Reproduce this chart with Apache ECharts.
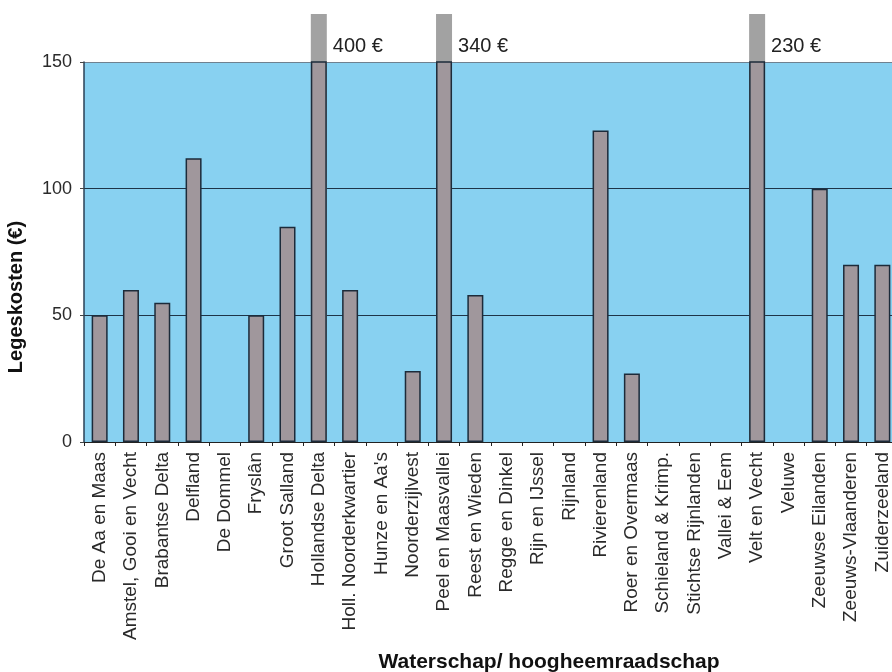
<!DOCTYPE html>
<html>
<head>
<meta charset="utf-8">
<script src="https://cdn.jsdelivr.net/npm/echarts@6/dist/echarts.min.js"></script>
<style>
html,body{margin:0;padding:0;background:#fff;width:892px;height:672px;overflow:hidden;}
#c{position:absolute;left:0;top:14px;width:900px;height:658px;}
</style>
</head>
<body>
<div id="c"></div>
<script>
const categories = ["De Aa en Maas","Amstel, Gooi en Vecht","Brabantse Delta","Delfland","De Dommel","Fryslân","Groot Salland","Hollandse Delta","Holl. Noorderkwartier","Hunze en Aa's","Noorderzijlvest","Peel en Maasvallei","Reest en Wieden","Regge en Dinkel","Rijn en IJssel","Rijnland","Rivierenland","Roer en Overmaas","Schieland & Krimp.","Stichtse Rijnlanden","Vallei & Eem","Velt en Vecht","Veluwe","Zeeuwse Eilanden","Zeeuws-Vlaanderen","Zuiderzeeland"];
const legeskosten = [50,60,55,112,null,50,85,400,60,null,28,340,58,null,null,null,123,27,null,null,null,230,null,100,70,70];
const axisMax = 150;
const yTicks = [0,50,100,150];

const overflow = legeskosten.map(v => (v != null && v > axisMax) ? v : null);
const overflowMarks = [];
legeskosten.forEach((v, i) => { if (v != null && v > axisMax) overflowMarks.push({coord: [i, axisMax], value: v}); });

const chart = echarts.init(document.getElementById('c'));
chart.setOption({
  animation: false,
  grid: {left: 84, right: 2, top: 48, bottom: 230, outerBoundsMode: 'none', containLabel: false,
         show: true, backgroundColor: '#88d1f1', borderWidth: 0},
  xAxis: {
    type: 'category',
    data: categories,
    name: 'Waterschap/ hoogheemraadschap',
    nameLocation: 'middle',
    nameGap: 210,
    nameTextStyle: {fontFamily: 'Liberation Sans', fontWeight: 'bold', fontSize: 21, color: '#111', padding: [0,0,0,116]},
    axisLine: {lineStyle: {color: '#222', width: 1}},
    axisTick: {show: true, length: 4, lineStyle: {color: '#222'}},
    axisLabel: {rotate: 90, interval: 0, margin: 10, fontFamily: 'Liberation Sans', fontSize: 19, color: '#2a2a2a'}
  },
  yAxis: {
    type: 'value',
    min: 0, max: axisMax, interval: 50,
    name: 'Legeskosten (€)',
    nameLocation: 'middle',
    nameGap: 58,
    nameTextStyle: {fontFamily: 'Liberation Sans', fontWeight: 'bold', fontSize: 20, color: '#111', padding: [0, 90, 0, 0]},
    axisLine: {show: true, lineStyle: {color: '#2a3f55', width: 1.5}},
    axisTick: {show: true, length: 4, lineStyle: {color: '#444'}},
    axisLabel: {margin: 12, fontFamily: 'Liberation Sans', fontSize: 18, color: '#2a2a2a',
      formatter: v => yTicks.includes(v) ? String(v) : ''},
    splitLine: {show: true, lineStyle: {color: ['#333', '#1e3448', '#1e3448', '#6f8190'], width: 1}}
  },
  series: [
    {
      type: 'bar',
      data: overflow,
      barWidth: 16,
      clip: false,
      z: 1,
      silent: true,
      itemStyle: {color: '#a2a2a2', borderWidth: 0},
      markPoint: {
        symbol: 'circle', symbolSize: 0,
        data: overflowMarks,
        label: {show: true, position: 'inside', align: 'left', offset: [14, -16],
          fontFamily: 'Liberation Sans', fontSize: 20, color: '#222',
          formatter: p => p.value + ' €'}
      }
    },
    {
      type: 'bar',
      data: legeskosten,
      barWidth: 16,
      barGap: '-100%',
      clip: true,
      z: 3,
      itemStyle: {color: '#a0979c', borderColor: '#1c2b3a', borderWidth: 1.5}
    }
  ]
});
</script>
</body>
</html>
